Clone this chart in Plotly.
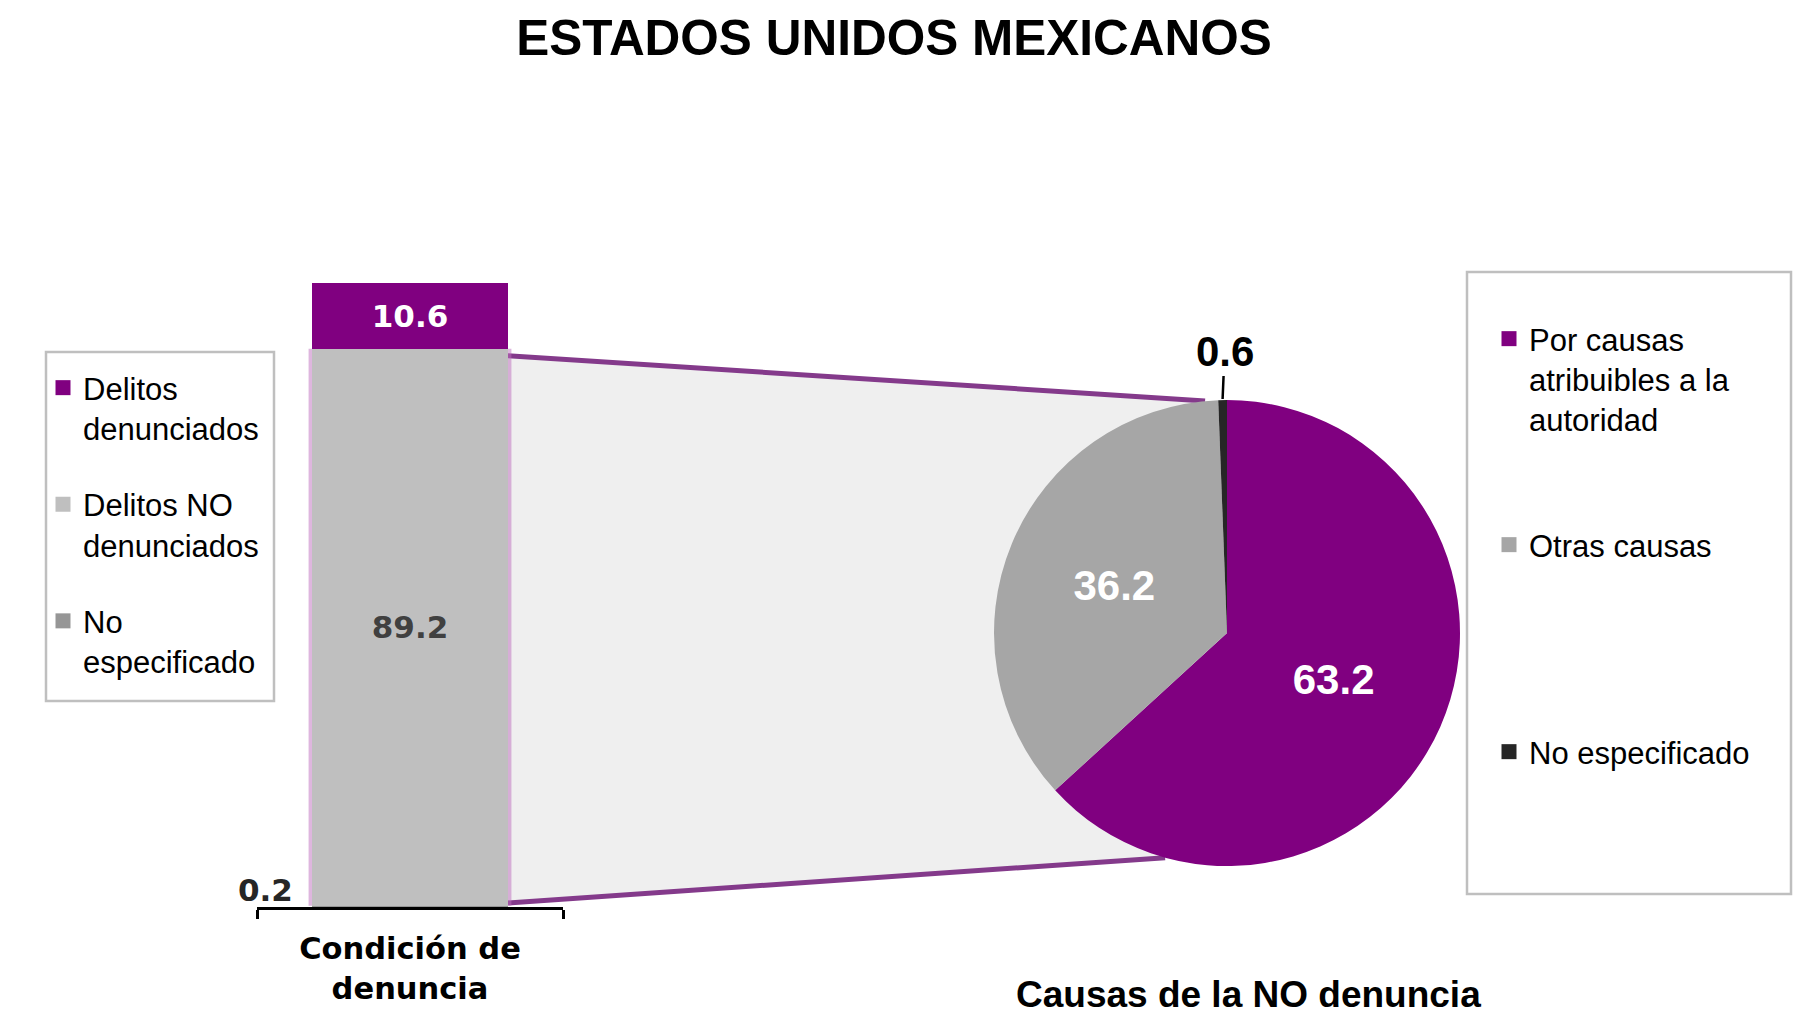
import math
import plotly.graph_objects as go

# ---------------- data ----------------
title_text = "ESTADOS UNIDOS MEXICANOS"
cond_category = "Condición de<br>denuncia"
cond_labels = ["No especificado", "Delitos NO denunciados", "Delitos denunciados"]
cond_legend = ["No<br>especificado", "Delitos NO<br>denunciados", "Delitos<br>denunciados"]
cond_values = [0.2, 89.2, 10.6]
cond_colors = ["#969696", "#BFBFBF", "#800080"]
cond_text_colors = ["#262626", "#404040", "#FFFFFF"]

causa_title = "Causas de la NO denuncia"
causa_labels = ["Por causas atribuibles a la autoridad", "Otras causas", "No especificado"]
causa_legend = ["Por causas<br>atribuibles a la<br>autoridad", "Otras causas", "No especificado"]
causa_values = [63.2, 36.2, 0.6]
causa_colors = ["#800080", "#A6A6A6", "#262626"]

# ---------------- layout helpers (page pixels -> paper) ----------------
OFF = 8                      # default page body margin
W, H = 1800, 1009
def px(x):
    return (x - OFF) / W
def py(y):
    return 1 - (y - OFF) / H

AX_L, AX_R = 257, 563          # category band of the bar axis
AX_BOT, AX_TOP = 907, 282.5    # y range 0..100
BAR_W = 0.64
PIE_CX, PIE_CY, PIE_R = 1227, 633, 233

fig = go.Figure()

# stacked bar
for i, (lab, v, c, tc) in enumerate(zip(cond_labels, cond_values, cond_colors, cond_text_colors)):
    show_text = i > 0
    fig.add_trace(go.Bar(
        x=[cond_category], y=[v], name=lab, showlegend=False,
        marker=dict(color=c, line=dict(width=0)),
        width=BAR_W,
        texttemplate="%{y:.1f}" if show_text else None,
        textposition="inside" if show_text else "none",
        insidetextanchor="middle",
        textfont=dict(family="DejaVu Sans", size=31, color=tc, weight="bold"),
        hovertemplate=lab + ": %{y:.1f}<extra></extra>",
    ))

# pie
fig.add_trace(go.Pie(
    labels=causa_labels, values=causa_values,
    marker=dict(colors=causa_colors, line=dict(width=0)),
    sort=False, direction="clockwise", rotation=0,
    domain=dict(x=[px(PIE_CX - PIE_R), px(PIE_CX + PIE_R)],
                y=[py(PIE_CY + PIE_R), py(PIE_CY - PIE_R)]),
    texttemplate=["%{value:.1f}", "%{value:.1f}", ""],
    textposition="inside", insidetextorientation="horizontal",
    textfont=dict(family="Liberation Sans", size=42, color="white", weight="bold"),
    showlegend=False,
    hovertemplate="%{label}: %{value:.1f}<extra></extra>",
))

# legend entries for the bar categories (top segment first)
for k in range(len(cond_labels) - 1, -1, -1):
    fig.add_trace(go.Scatter(
        x=[None], y=[None], mode="markers", name=cond_legend[k],
        marker=dict(symbol="square", size=15, color=cond_colors[k]),
        legend="legend", legendgroup=f"c{k}", showlegend=True, hoverinfo="skip",
    ))

# legend entries for pie categories (each in its own legend box position)
legend_first_line = [341, 547, 754]
for j, (leg, c) in enumerate(zip(causa_legend, causa_colors)):
    fig.add_trace(go.Scatter(
        x=[None], y=[None], mode="markers", name=leg,
        marker=dict(symbol="square", size=15, color=c),
        legend=f"legend{j + 2}", showlegend=True, hoverinfo="skip",
    ))

# ---------------- derived geometry for connector ----------------
bar_right_px = (AX_L + AX_R) / 2 + BAR_W * (AX_R - AX_L) / 2
top_gray = cond_values[0] + cond_values[1]
y_top_px = AX_BOT - top_gray / 100 * (AX_BOT - AX_TOP) + 7
y_bot_px = AX_BOT - 4

def pie_pt(theta_deg):
    t = math.radians(theta_deg)
    return PIE_CX + PIE_R * math.sin(t), PIE_CY - PIE_R * math.cos(t)

p_top = pie_pt(-5.4)
p_bot = pie_pt(195.4)

poly = (f"M {px(bar_right_px)} {py(y_top_px)} L {px(p_top[0])} {py(p_top[1])} "
        f"L {px(p_bot[0])} {py(p_bot[1])} L {px(bar_right_px)} {py(y_bot_px)} Z")

line_col = "#843A8B"
glow = "rgba(190,110,190,0.5)"
shapes = [
    dict(type="path", path=poly, xref="paper", yref="paper", fillcolor="#EFEFEF",
         line=dict(width=0), layer="below"),
    # soft purple edges of the grey segment
    dict(type="line", xref="x", yref="y", x0=-BAR_W / 2, x1=-BAR_W / 2,
         y0=cond_values[0], y1=top_gray, line=dict(color=glow, width=7), layer="below"),
    dict(type="line", xref="x", yref="y", x0=BAR_W / 2, x1=BAR_W / 2,
         y0=cond_values[0], y1=top_gray, line=dict(color=glow, width=7), layer="below"),
    dict(type="line", xref="paper", yref="paper", x0=px(bar_right_px), y0=py(y_top_px),
         x1=px(p_top[0]), y1=py(p_top[1]), line=dict(color=line_col, width=5), layer="below"),
    dict(type="line", xref="paper", yref="paper", x0=px(bar_right_px), y0=py(y_bot_px),
         x1=px(p_bot[0]), y1=py(p_bot[1]), line=dict(color=line_col, width=5), layer="below"),
    # legend frames
    dict(type="rect", xref="paper", yref="paper", x0=px(46), x1=px(274), y0=py(701), y1=py(352),
         line=dict(color="#BFBFBF", width=2.5), fillcolor="rgba(0,0,0,0)"),
    dict(type="rect", xref="paper", yref="paper", x0=px(1467), x1=px(1791), y0=py(894), y1=py(272),
         line=dict(color="#BFBFBF", width=2.5), fillcolor="rgba(0,0,0,0)"),
]

# label for the tiny slice of the pie
cum = sum(causa_values[:-1]) + causa_values[-1] / 2
mid = pie_pt(360 * cum / sum(causa_values))

annotations = [
    dict(text=f"{causa_values[-1]:.1f}", xref="paper", yref="paper",
         x=px(mid[0]), y=py(mid[1] - 1), showarrow=True, arrowhead=0, arrowwidth=2.5,
         arrowcolor="#000000", ax=2, ay=-48,
         font=dict(family="Liberation Sans", size=42, color="black", weight="bold")),
    dict(text=f"{cond_values[0]:.1f}", xref="x", yref="y", x=cond_category, y=cond_values[0],
         xanchor="right", yanchor="bottom", xshift=-(BAR_W * (AX_R - AX_L) / 2 + 17), yshift=-4,
         showarrow=False,
         font=dict(family="DejaVu Sans", size=31, color="#262626", weight="bold")),
    dict(text=causa_title, xref="paper", yref="paper", x=px(1248), y=py(994),
         xanchor="center", yanchor="middle", showarrow=False,
         font=dict(family="Liberation Sans", size=37, color="black", weight="bold")),
]

legend_font = dict(family="Liberation Sans", size=31, color="black")
layouts_legends = dict(
    legend=dict(x=px(43), y=py(361), xanchor="left", yanchor="top",
                bgcolor="rgba(0,0,0,0)", borderwidth=0, font=legend_font,
                traceorder="grouped", tracegroupgap=33, valign="top",
                itemclick=False, itemdoubleclick=False),
)
for j, yl in enumerate(legend_first_line):
    layouts_legends[f"legend{j + 2}"] = dict(
        x=px(1489), y=py(yl - 29), xanchor="left", yanchor="top",
        bgcolor="rgba(0,0,0,0)", borderwidth=0, font=legend_font, valign="top",
        itemclick=False, itemdoubleclick=False)

fig.update_layout(
    width=W, height=H,
    margin=dict(l=0, r=0, t=0, b=0),
    paper_bgcolor="white", plot_bgcolor="rgba(0,0,0,0)",
    barmode="stack",
    title=dict(text=f"<b>{title_text}</b>", x=px(894), xanchor="center",
               y=py(38), yanchor="middle",
               font=dict(family="Liberation Sans", size=49.5, color="black")),
    xaxis=dict(domain=[px(AX_L), px(AX_R)], range=[-0.5, 0.5], type="category",
               showline=True, linecolor="black", linewidth=2.5,
               ticks="outside", tickson="boundaries", ticklen=9, tickwidth=2.5, tickcolor="black",
               ticklabelstandoff=13,
               showgrid=False, zeroline=False,
               tickfont=dict(family="DejaVu Sans", size=30.5, color="black", weight="bold")),
    yaxis=dict(domain=[py(AX_BOT), py(AX_TOP)], range=[0, 100], visible=False,
               showgrid=False, zeroline=False),
    shapes=shapes,
    annotations=annotations,
    showlegend=True,
    **layouts_legends,
)

fig.write_html("out.html")
